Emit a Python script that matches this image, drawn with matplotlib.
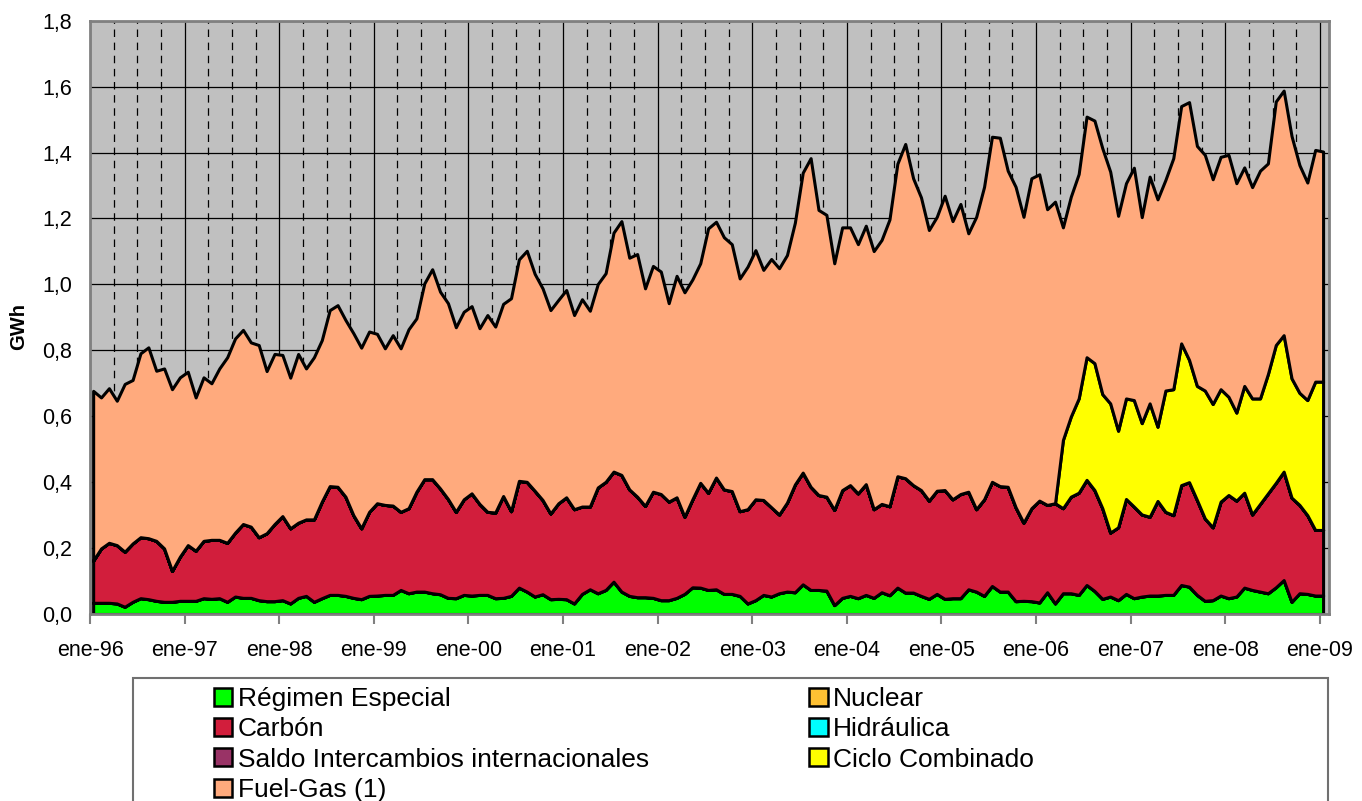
import numpy as np
import matplotlib.pyplot as plt
from matplotlib.patches import Patch, Rectangle

plt.rcParams['font.family'] = ['Liberation Sans', 'DejaVu Sans']

# ================================
# Data: monthly values in GWh, ene-96 .. ene-09
# ================================
regimen_especial = [
    0.034, 0.034, 0.034, 0.032, 0.022, 0.037, 0.048, 0.045, 0.040, 0.037, 0.037, 0.040,  # 1996
    0.040, 0.040, 0.048, 0.046, 0.048, 0.037, 0.053, 0.049, 0.049, 0.042, 0.039, 0.039,  # 1997
    0.042, 0.032, 0.049, 0.055, 0.037, 0.048, 0.058, 0.058, 0.055, 0.049, 0.045, 0.055,  # 1998
    0.056, 0.058, 0.058, 0.073, 0.063, 0.068, 0.068, 0.063, 0.060, 0.049, 0.048, 0.058,  # 1999
    0.056, 0.058, 0.058, 0.048, 0.049, 0.055, 0.080, 0.068, 0.053, 0.060, 0.045, 0.046,  # 2000
    0.045, 0.032, 0.061, 0.075, 0.063, 0.073, 0.098, 0.068, 0.055, 0.051, 0.051, 0.049,  # 2001
    0.042, 0.042, 0.049, 0.061, 0.081, 0.080, 0.073, 0.075, 0.061, 0.061, 0.055, 0.032,  # 2002
    0.042, 0.058, 0.053, 0.063, 0.068, 0.066, 0.090, 0.073, 0.073, 0.071, 0.027, 0.049,  # 2003
    0.055, 0.048, 0.058, 0.049, 0.066, 0.057, 0.080, 0.065, 0.065, 0.055, 0.046, 0.061,  # 2004
    0.046, 0.048, 0.048, 0.075, 0.068, 0.055, 0.085, 0.068, 0.068, 0.039, 0.040, 0.039,  # 2005
    0.035, 0.066, 0.032, 0.063, 0.063, 0.058, 0.088, 0.070, 0.046, 0.053, 0.042, 0.061,  # 2006
    0.048, 0.053, 0.056, 0.056, 0.058, 0.058, 0.088, 0.083, 0.058, 0.040, 0.042, 0.056,  # 2007
    0.048, 0.053, 0.080, 0.073, 0.068, 0.063, 0.081, 0.103, 0.037, 0.063, 0.061, 0.056,  # 2008
    0.056,                                                                              # 2009
]

carbon = [
    0.128, 0.165, 0.182, 0.177, 0.167, 0.177, 0.185, 0.185, 0.182, 0.162, 0.094, 0.134,
    0.169, 0.152, 0.174, 0.179, 0.177, 0.179, 0.194, 0.224, 0.216, 0.191, 0.206, 0.234,
    0.255, 0.228, 0.228, 0.232, 0.250, 0.293, 0.330, 0.328, 0.301, 0.251, 0.215, 0.255,
    0.280, 0.273, 0.271, 0.237, 0.258, 0.303, 0.341, 0.346, 0.321, 0.300, 0.262, 0.290,
    0.310, 0.276, 0.252, 0.260, 0.309, 0.257, 0.324, 0.333, 0.321, 0.286, 0.260, 0.290,
    0.309, 0.286, 0.265, 0.251, 0.321, 0.328, 0.334, 0.354, 0.323, 0.305, 0.277, 0.322,
    0.322, 0.299, 0.305, 0.234, 0.267, 0.318, 0.295, 0.339, 0.317, 0.312, 0.257, 0.286,
    0.306, 0.288, 0.271, 0.239, 0.270, 0.327, 0.339, 0.313, 0.288, 0.285, 0.289, 0.327,
    0.336, 0.318, 0.336, 0.269, 0.268, 0.270, 0.338, 0.347, 0.326, 0.321, 0.298, 0.313,
    0.330, 0.300, 0.316, 0.296, 0.250, 0.293, 0.316, 0.320, 0.318, 0.285, 0.237, 0.282,
    0.309, 0.265, 0.304, 0.258, 0.293, 0.310, 0.319, 0.306, 0.275, 0.194, 0.221, 0.288,
    0.278, 0.249, 0.239, 0.287, 0.252, 0.242, 0.303, 0.317, 0.288, 0.250, 0.221, 0.285,
    0.313, 0.291, 0.288, 0.229, 0.266, 0.303, 0.317, 0.329, 0.316, 0.268, 0.239, 0.199,
    0.199,
]

# combined cycle only appears from abr-06
ciclo_combinado = [0.0] * 123 + [
    0.207, 0.243, 0.286, 0.372, 0.385, 0.346, 0.392, 0.293, 0.305,                       # abr-dic 2006
    0.323, 0.277, 0.344, 0.225, 0.368, 0.382, 0.430, 0.371, 0.346, 0.388, 0.374, 0.341,  # 2007
    0.298, 0.267, 0.324, 0.352, 0.320, 0.362, 0.418, 0.414, 0.362, 0.340, 0.349, 0.450,  # 2008
    0.450,
]

fuel_gas = [
    0.515, 0.458, 0.469, 0.438, 0.509, 0.496, 0.558, 0.579, 0.516, 0.546, 0.551, 0.544,
    0.526, 0.465, 0.496, 0.475, 0.520, 0.563, 0.589, 0.589, 0.559, 0.583, 0.492, 0.516,
    0.489, 0.457, 0.512, 0.458, 0.492, 0.490, 0.534, 0.551, 0.536, 0.552, 0.548, 0.547,
    0.514, 0.475, 0.517, 0.496, 0.543, 0.526, 0.594, 0.637, 0.597, 0.594, 0.560, 0.569,
    0.568, 0.533, 0.597, 0.564, 0.583, 0.646, 0.672, 0.701, 0.658, 0.642, 0.617, 0.617,
    0.629, 0.589, 0.629, 0.594, 0.617, 0.633, 0.725, 0.770, 0.703, 0.736, 0.660, 0.685,
    0.675, 0.602, 0.672, 0.681, 0.667, 0.666, 0.802, 0.776, 0.765, 0.749, 0.706, 0.736,
    0.756, 0.698, 0.753, 0.747, 0.751, 0.794, 0.910, 0.997, 0.865, 0.855, 0.748, 0.797,
    0.782, 0.756, 0.784, 0.783, 0.801, 0.870, 0.948, 1.014, 0.931, 0.888, 0.821, 0.831,
    0.893, 0.844, 0.880, 0.784, 0.887, 0.948, 1.047, 1.057, 0.959, 0.972, 0.928, 1.001,
    0.990, 0.897, 0.915, 0.645, 0.667, 0.681, 0.730, 0.736, 0.746, 0.703, 0.652, 0.653,
    0.705, 0.625, 0.688, 0.690, 0.639, 0.701, 0.720, 0.782, 0.728, 0.715, 0.682, 0.705,
    0.734, 0.696, 0.663, 0.641, 0.691, 0.639, 0.739, 0.742, 0.735, 0.691, 0.660, 0.703,
    0.698,
]

n_months = len(fuel_gas)
# these three are zero over the whole period (nothing visible in the chart)
nuclear = [0.0] * n_months
hidraulica = [0.0] * n_months
saldo_intercambios = [0.0] * n_months

year_labels = ['ene-96', 'ene-97', 'ene-98', 'ene-99', 'ene-00', 'ene-01', 'ene-02',
               'ene-03', 'ene-04', 'ene-05', 'ene-06', 'ene-07', 'ene-08', 'ene-09']

series_names = ['Régimen Especial', 'Nuclear', 'Carbón', 'Hidráulica',
                'Saldo Intercambios internacionales', 'Ciclo Combinado', 'Fuel-Gas (1)']
series_colors = ['#00FF00', '#FFC133', '#D21E3C', '#00FFFF', '#993366', '#FFFF00', '#FFAA7D']

# ================================
# Plot
# ================================
W, H = 1362, 801
fig = plt.figure(figsize=(W / 100, H / 100), dpi=100)
ax = fig.add_axes([90 / W, 1 - 614 / H, (1329 - 90) / W, (614 - 20.7) / H])

# months counted from ene-96; each point sits a bit right of its month tick
x = np.arange(n_months) + 0.4
ax.stackplot(x, regimen_especial, nuclear, carbon, hidraulica, saldo_intercambios,
             ciclo_combinado, fuel_gas, colors=series_colors,
             edgecolor='black', linewidth=2.2, zorder=2)

ax.set_xlim(0, 157.15)
ax.set_ylim(0, 1.8)
ax.set_facecolor('#C0C0C0')
ax.set_axisbelow(True)

# y axis
yticks = np.arange(0, 1.81, 0.2)
ax.set_yticks(yticks)
ax.set_yticklabels([f"{v:.1f}".replace('.', ',') for v in yticks], fontsize=15.5)
ax.tick_params(axis='y', length=0, pad=13)
ax.yaxis.grid(True, color='black', linewidth=0.9)

# x axis: solid at years, dashed every quarter
ax.set_xticks(np.arange(0, 157, 12))
ax.set_xticklabels(year_labels, fontsize=15.5)
ax.set_xticks([m for m in range(3, 157, 3) if m % 12 != 0], minor=True)
ax.tick_params(axis='x', which='major', length=7, width=1.5, color='#808080', pad=12)
ax.tick_params(axis='x', which='minor', length=0)
ax.xaxis.grid(True, which='major', color='black', linewidth=0.9)
ax.xaxis.grid(True, which='minor', color='black', linewidth=0.9, linestyle=(0, (6, 4.5)))

for sp in ax.spines.values():
    sp.set_color('#808080')
    sp.set_linewidth(2)

fig.text(18.5 / W, 1 - 327 / H, 'GWh', rotation=90, fontsize=14.5, fontweight='bold',
         ha='center', va='center')

# ================================
# Legend (box runs past the bottom of the figure)
# ================================
box = Rectangle((133 / W, -0.05), (1328 - 133) / W, 0.05 + (H - 678) / H,
                transform=fig.transFigure, facecolor='white', edgecolor='#707070',
                linewidth=1.5, zorder=0)
fig.patches.append(box)

order = [0, 2, 4, 6, 1, 3, 5]
handles = [Patch(facecolor=series_colors[k], edgecolor='black', linewidth=1.8) for k in order]
labels = [series_names[k] for k in order]
fig.legend(handles, labels, loc='upper left', bbox_to_anchor=(214 / W, 1 - 687 / H),
           ncol=2, frameon=False, fontsize=19, borderpad=0, borderaxespad=0,
           handlelength=0.7, handleheight=0.68, handletextpad=0.2,
           labelspacing=0.24, columnspacing=6.08)

fig.savefig('out.png', dpi=100)
